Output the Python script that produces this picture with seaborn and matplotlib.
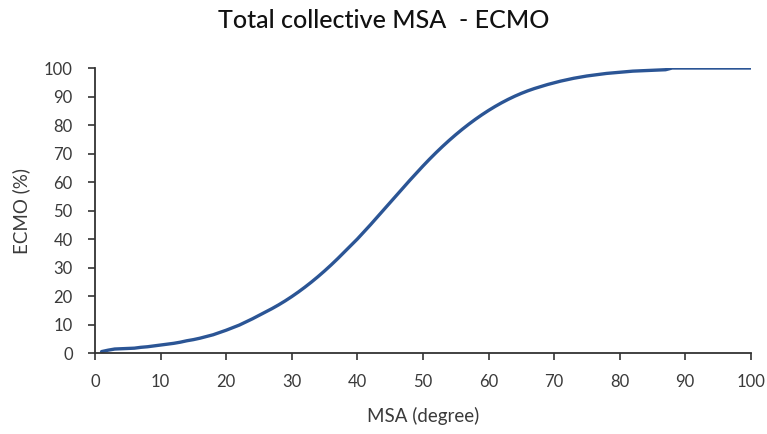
import numpy as np
import pandas as pd
import matplotlib
matplotlib.use("Agg")
import matplotlib.pyplot as plt
import seaborn as sns

# MSA angle (degrees) and cumulative ECMO share (%)
msa_deg = list(range(1, 101))
ecmo_pct = [
    0.5, 1.0, 1.4, 1.5, 1.6, 1.7, 2.0, 2.2, 2.5, 2.8,
    3.1, 3.4, 3.8, 4.3, 4.7, 5.2, 5.8, 6.4, 7.2, 8.0,
    8.9, 9.8, 10.9, 12.0, 13.2, 14.4, 15.6, 16.9, 18.3, 19.8,
    21.4, 23.1, 24.9, 26.8, 28.8, 30.9, 33.1, 35.4, 37.7, 40.0,
    42.5, 45.0, 47.6, 50.2, 52.8, 55.4, 58.0, 60.6, 63.1, 65.6,
    68.0, 70.3, 72.5, 74.6, 76.6, 78.5, 80.3, 82.0, 83.6, 85.1,
    86.5, 87.8, 89.0, 90.1, 91.1, 92.0, 92.8, 93.5, 94.2, 94.8,
    95.4, 95.9, 96.4, 96.8, 97.2, 97.5, 97.8, 98.1, 98.3, 98.5,
    98.7, 98.9, 99.0, 99.1, 99.2, 99.3, 99.4, 100.0, 100.0, 100.0,
    100.0, 100.0, 100.0, 100.0, 100.0, 100.0, 100.0, 100.0, 100.0, 100.0,
]
x_ticks = list(range(0, 101, 10))
y_ticks = list(range(0, 101, 10))

title = "Total collective MSA  - ECMO"
x_label = "MSA (degree)"
y_label = "ECMO (%)"

sns.set_theme(style="white")
plt.rcParams["font.family"] = ["Lato", "DejaVu Sans"]

df = pd.DataFrame({"msa": msa_deg, "ecmo": ecmo_pct})

fig = plt.figure(figsize=(7.67, 4.34), dpi=100)
ax = fig.add_axes([0.1239, 0.1866, 0.855, 0.6567])

sns.lineplot(data=df, x="msa", y="ecmo", ax=ax, color="#2B5595", linewidth=2.4)

ax.set_xlim(0, 100)
ax.set_ylim(0, 100)
ax.set_xticks(x_ticks)
ax.set_yticks(y_ticks)

text_color = "#3a3a3a"
ax.tick_params(axis="both", which="major", direction="out", length=5, width=1.2,
               color="#333333", labelsize=12, labelcolor=text_color,
               bottom=True, left=True)
ax.tick_params(axis="x", pad=10)
ax.tick_params(axis="y", pad=11)
for side in ("top", "right"):
    ax.spines[side].set_visible(False)
for side in ("left", "bottom"):
    ax.spines[side].set_color("#333333")
    ax.spines[side].set_linewidth(1.3)

ax.set_xlabel(x_label, fontsize=13.5, color=text_color, labelpad=12)
ax.set_ylabel(y_label, fontsize=13.5, color=text_color, labelpad=10)
fig.text(0.5, 0.952, title, ha="center", va="center", fontsize=18,
         fontweight="medium", color="#111111")

fig.savefig("out.png", dpi=100)
